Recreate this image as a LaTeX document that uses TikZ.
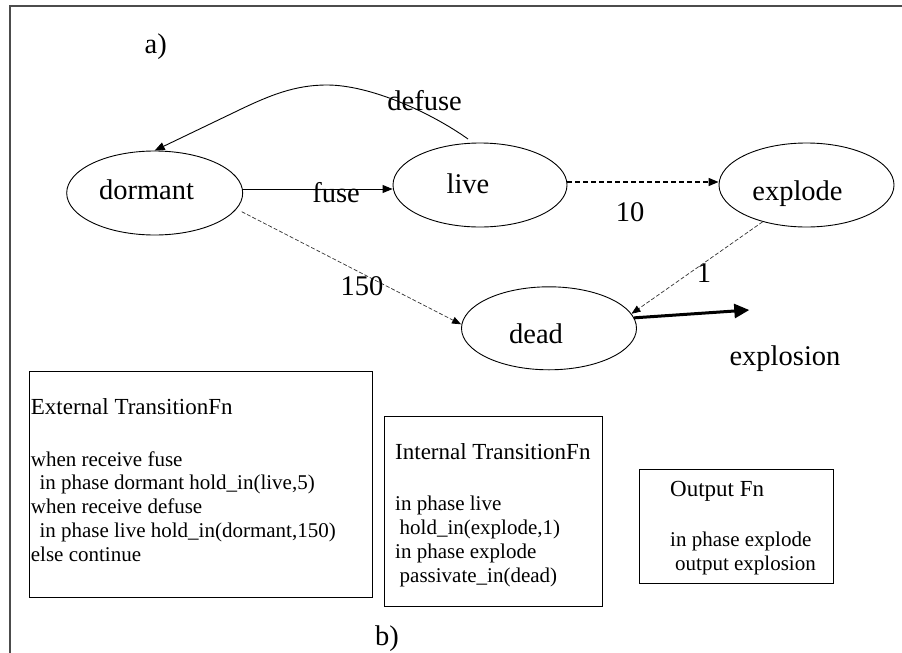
\documentclass[tikz,border=0pt]{standalone}
\usepackage{fontspec}
\setmainfont{Liberation Serif}
\usetikzlibrary{arrows.meta,shapes.geometric}

\begin{document}
\begin{tikzpicture}[x=1pt,y=-1pt,
  state/.style={draw, ellipse, inner sep=0pt, line width=0.9pt, minimum height=84pt},
  glabel/.style={font=\fontsize{28.5}{34}\selectfont, inner sep=0pt, anchor=base},
  fnbox/.style={draw, rectangle, line width=1pt, inner sep=0pt, anchor=north west},
  fnhead/.style={font=\fontsize{23}{27}\selectfont, inner sep=0pt, anchor=base west},
  fnline/.style={font=\fontsize{21}{24}\selectfont, inner sep=0pt, anchor=base west},
  solidarrow/.style={-{Triangle[length=10pt,width=8pt]}, line width=0.9pt},
  dasharrow/.style={-{Triangle[length=10pt,width=8pt]}, line width=1.3pt, dash pattern=on 5pt off 3pt},
  thinarrow/.style={-{Triangle[length=9pt,width=7pt,color=black]}, line width=0.7pt,
    draw=black!80, dash pattern=on 4pt off 2pt},
  thickarrow/.style={-{Triangle[length=15pt,width=14pt]}, line width=3pt},
]
\useasboundingbox (0,0) rectangle (902,653);

% frame
\draw[draw=black!70, line width=2pt] (9.5,660) -- (9.5,5.7) -- (910,5.7);

% part labels
\node[glabel] (lbl-a) at (155.8,53.3) {a)};
\node[glabel] (lbl-b) at (387,645) {b)};

% states
\node[state, minimum width=176pt] (dormant) at (154.7,193) {};
\node[state, minimum width=174pt] (live) at (480,185) {};
\node[state, minimum width=175pt] (explode) at (806.5,185) {};
\node[state, minimum width=175pt, minimum height=83pt] (dead) at (549,328.3) {};

\node[glabel] (dormant-t) at (146.5,199.3) {dormant};
\node[glabel] (live-t) at (468,193.3) {live};
\node[glabel] (explode-t) at (797.5,200) {explode};
\node[glabel] (dead-t) at (536,343.3) {dead};

% transitions
\draw[solidarrow] ([yshift=4pt]dormant.east) -- ([yshift=-4pt]live.west);
\node[glabel] (fuse-t) at (336,202) {fuse};

\coordinate (defuse-start) at (468,139);
\draw[solidarrow] (defuse-start) .. controls (430,112) and (370,85) .. (327,85)
  .. controls (295,85) and (270,95) .. (235,112) -- (dormant.north);
\node[glabel] (defuse-t) at (424.6,110) {defuse};

\draw[dasharrow] ([yshift=3pt]live.east) -- ([yshift=3pt]explode.west);
\node[glabel] (ten-t) at (630,221.7) {10};

\coordinate (sleep-start) at (241.7,211.7);
\draw[thinarrow] (sleep-start) -- ([yshift=4pt]dead.west);
\node[glabel] (sleep-t) at (362,295) {150};

\draw[thinarrow] (explode.220) -- (dead.10);
\node[glabel] (one-t) at (704,282.7) {1};

\coordinate (out-tip) at (749.3,310);
\draw[thickarrow] (dead.7) -- (out-tip);
\node[glabel] (explosion-t) at (785,365) {explosion};

% function boxes
\node[fnbox, minimum width=343pt, minimum height=226pt] (extbox) at (29.3,370.7) {};
\node[fnhead] (ext-h) at (30.7,414) {External TransitionFn};
\node[fnline] (ext-1) at (30.7,466) {when receive fuse};
\node[fnline] (ext-2) at (39.3,489.8) {in phase dormant hold\_in(live,5)};
\node[fnline] (ext-3) at (30.7,513.6) {when receive defuse};
\node[fnline] (ext-4) at (39.3,537.6) {in phase live hold\_in(dormant,150)};
\node[fnline] (ext-5) at (30.7,561.5) {else continue};

\node[fnbox, minimum width=218pt, minimum height=190pt] (intbox) at (384.3,416) {};
\node[fnhead] (int-h) at (395,459.3) {Internal TransitionFn};
\node[fnline] (int-1) at (395,510.3) {in phase live};
\node[fnline] (int-2) at (399.5,534.2) {hold\_in(explode,1)};
\node[fnline] (int-3) at (395,558.1) {in phase explode};
\node[fnline] (int-4) at (399.5,582) {passivate\_in(dead)};

\node[fnbox, minimum width=194.3pt, minimum height=113.4pt] (outbox) at (639,469.3) {};
\node[fnhead] (out-h) at (670,496.7) {Output Fn};
\node[fnline] (out-1) at (670,546) {in phase explode};
\node[fnline] (out-2) at (675,570) {output explosion};
\end{tikzpicture}
\end{document}
